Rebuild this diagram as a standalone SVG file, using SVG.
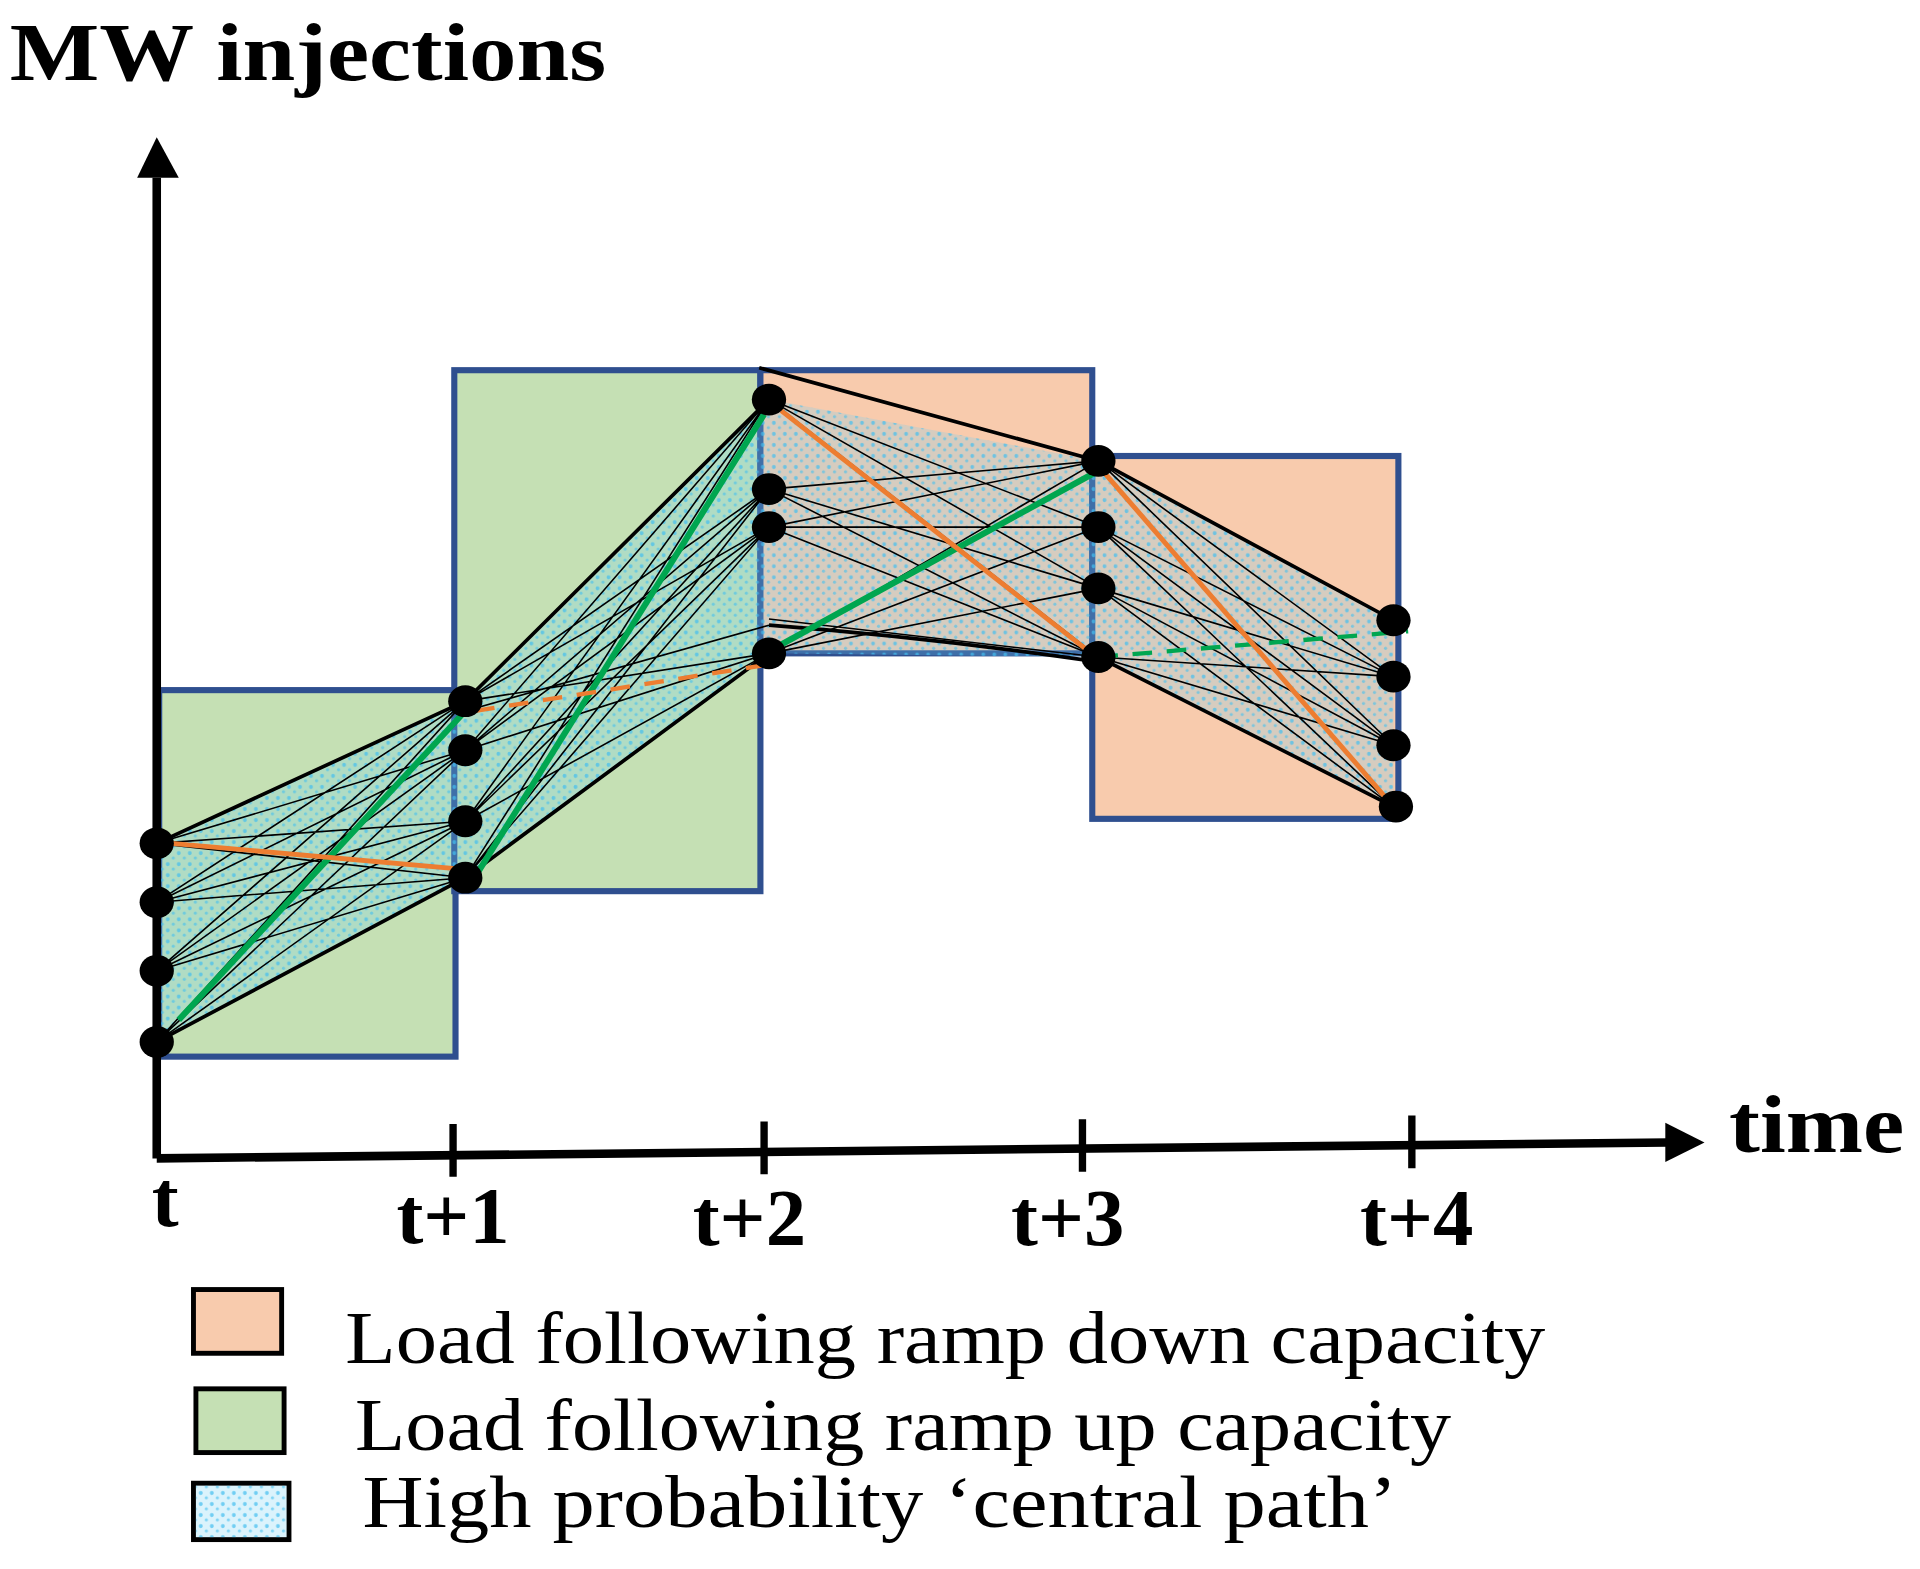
<svg xmlns="http://www.w3.org/2000/svg" width="1920" height="1569" viewBox="0 0 1920 1569">
<defs>
<style>
.box{stroke:#2f4f8f;stroke-width:5}
.up{fill:#c5e0b4}
.dn{fill:#f8cbad}
.net{fill:none;stroke:#000;stroke-width:1.3}
.env{fill:none;stroke:#000;stroke-width:3}
.nd{fill:#000}
.lbl{font-family:"Liberation Serif",serif;font-weight:bold;fill:#000}
.leg{font-family:"Liberation Serif",serif;font-size:60px;fill:#000}
</style>
<pattern id="dots" width="9" height="9" patternUnits="userSpaceOnUse">
<rect width="9" height="9" fill="#6fd0f5" opacity="0.25"/>
<circle cx="2" cy="3" r="1.6" fill="#45c0f0" opacity="0.7"/>
<circle cx="6.5" cy="7" r="1.3" fill="#45c0f0" opacity="0.6"/>
</pattern>
</defs>
<rect width="1920" height="1569" fill="#fff"/>
<g transform="scale(1.2245,1.2258)">
<g id="boxes">
<rect id="box-up1" class="box up" x="130" y="563" width="242" height="299"/>
<rect id="box-up2" class="box up" x="371" y="302" width="250" height="425"/>
<rect id="box-dn1" class="box dn" x="621" y="302" width="271" height="231"/>
<rect id="box-dn2" class="box dn" x="892" y="372" width="250" height="296"/>
</g>
<g id="cloud">
<polygon points="128,688 380,572 628,326 897,376 1138,506 1138,658 897,536 628,533 380,716 128,850" fill="url(#dots)"/>
</g>
<g id="connectors">
<path class="net" d="M128,688L380,612M128,688L380,670M128,688L380,716M128,736L380,572M128,736L380,612M128,736L380,670M128,736L380,716M128,792L380,572M128,792L380,612M128,792L380,670M128,792L380,716M128,850L380,572M128,850L380,612M128,850L380,670"/>
<path class="env" d="M128,688L380,572M128,850L380,716"/>
<path class="net" d="M380,572L628,399M380,572L628,430M380,572L628,533M380,612L628,326M380,612L628,399M380,612L628,430M380,612L628,533M380,670L628,326M380,670L628,399M380,670L628,430M380,670L628,533M380,716L628,326M380,716L628,399M380,716L628,430M380,580L628,510"/>
<path class="env" d="M380,572L628,326M380,716L628,533"/>
<path class="net" d="M628,326L897,430M628,326L897,480M628,326L897,536M628,399L897,376M628,399L897,480M628,399L897,536M628,430L897,376M628,430L897,430M628,430L897,536M628,533L897,376M628,533L897,430M628,533L897,480M628,505L897,536"/>
<path class="env" d="M620,300L897,376M628,510Q760,520 897,540"/>
<path class="net" d="M897,376L1138,552M897,376L1138,608M897,430L1138,552M897,430L1138,658M897,480L1138,608M897,480L1138,658M897,536L1138,552M897,536L1138,608M897,430L1138,608M897,480L1138,552"/>
<path class="env" d="M897,376L1138,506M897,536L1138,658"/>
<path d="M146,832L380,580M390,712L624,338M634,528L897,384" fill="none" stroke="#00a650" stroke-width="5"/>
<path d="M897,536L1150,515" fill="none" stroke="#00a650" stroke-width="3.5" stroke-dasharray="16,12"/>
<path d="M140,688L388,710M638,335L890,532M897,380L1138,658" fill="none" stroke="#ed7d31" stroke-width="4"/>
<path d="M388,580L622,543" fill="none" stroke="#ed7d31" stroke-width="3.5" stroke-dasharray="16,12"/>
</g>
<g id="axes">
<path d="M128,945L128,145" stroke="#000" stroke-width="7" fill="none"/>
<polygon points="112,145 128,112 146,145" fill="#000"/>
<path d="M128,945L1362,932" stroke="#000" stroke-width="7" fill="none"/>
<polygon points="1360,916 1392,932 1360,948" fill="#000"/>
<path d="M370,917V960M624,915V958M884,913V956M1153,910V953" stroke="#000" stroke-width="6"/>
<text class="lbl" x="8" y="65" font-size="68" textLength="487" lengthAdjust="spacingAndGlyphs">MW injections</text>
<text class="lbl" x="1412" y="940" font-size="68" textLength="143" lengthAdjust="spacingAndGlyphs">time</text>
<text class="lbl" x="135" y="1000" font-size="66" text-anchor="middle">t</text>
<text class="lbl" x="370" y="1014" font-size="66" text-anchor="middle">t+1</text>
<text class="lbl" x="612" y="1016" font-size="66" text-anchor="middle">t+2</text>
<text class="lbl" x="872" y="1016" font-size="66" text-anchor="middle">t+3</text>
<text class="lbl" x="1157" y="1016" font-size="66" text-anchor="middle">t+4</text>
</g>
<g id="nodes">
<ellipse class="nd" cx="128" cy="688" rx="14" ry="13"/><ellipse class="nd" cx="128" cy="736" rx="14" ry="13"/><ellipse class="nd" cx="128" cy="792" rx="14" ry="13" fill="#0a3d55"/><ellipse class="nd" cx="128" cy="850" rx="14" ry="13"/>
<ellipse class="nd" cx="380" cy="572" rx="14" ry="13"/><ellipse class="nd" cx="380" cy="612" rx="14" ry="13"/><ellipse class="nd" cx="380" cy="670" rx="14" ry="13"/><ellipse class="nd" cx="380" cy="716" rx="14" ry="13"/>
<ellipse class="nd" cx="628" cy="326" rx="14" ry="13"/><ellipse class="nd" cx="628" cy="399" rx="14" ry="13"/><ellipse class="nd" cx="628" cy="430" rx="14" ry="13"/><ellipse class="nd" cx="628" cy="533" rx="14" ry="13"/>
<ellipse class="nd" cx="897" cy="376" rx="14" ry="13"/><ellipse class="nd" cx="897" cy="430" rx="14" ry="13"/><ellipse class="nd" cx="897" cy="480" rx="14" ry="13"/><ellipse class="nd" cx="897" cy="536" rx="14" ry="13"/>
<ellipse class="nd" cx="1138" cy="506" rx="14" ry="13"/><ellipse class="nd" cx="1138" cy="552" rx="14" ry="13"/><ellipse class="nd" cx="1138" cy="608" rx="14" ry="13"/><ellipse class="nd" cx="1140" cy="658" rx="14" ry="13"/>
</g>
<g id="legend">
<rect x="158" y="1052" width="72" height="52" fill="#f8cbad" stroke="#000" stroke-width="4"/>
<rect x="160" y="1133" width="72" height="52" fill="#c5e0b4" stroke="#000" stroke-width="4"/>
<rect x="158" y="1210" width="78" height="46" fill="#fff" stroke="#000" stroke-width="4"/>
<rect x="160" y="1212" width="74" height="42" fill="url(#dots)"/>
<text class="leg" x="282" y="1112" textLength="980" lengthAdjust="spacingAndGlyphs">Load following ramp down capacity</text>
<text class="leg" x="290" y="1183" textLength="895" lengthAdjust="spacingAndGlyphs">Load following ramp up capacity</text>
<text class="leg" x="296" y="1246" textLength="845" lengthAdjust="spacingAndGlyphs">High probability ‘central path’</text>
</g>
</g>
</svg>
